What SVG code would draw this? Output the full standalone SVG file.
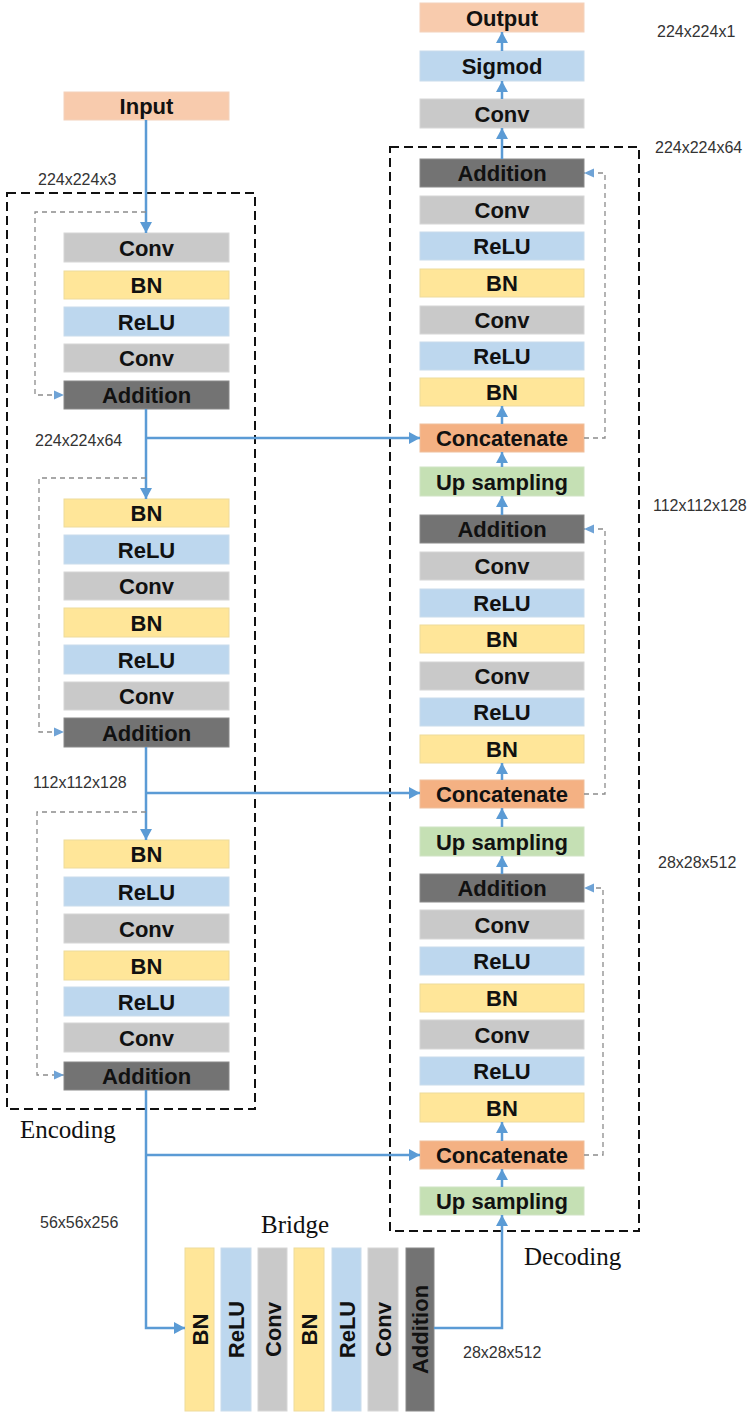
<svg xmlns="http://www.w3.org/2000/svg" width="750" height="1427" viewBox="0 0 750 1427">
<style>
.b{stroke-width:1}
.conv{fill:#C9C9C9;stroke:#D6D6D6}
.bn{fill:#FFE699;stroke:#EEDB9C}
.relu{fill:#BDD7EE;stroke:#C9DCEC}
.add{fill:#737373;stroke:#8A8A8A}
.io{fill:#F8CBAD;stroke:#F3D2BC}
.cat{fill:#F4B183;stroke:#EFBF9C}
.up{fill:#C5E0B4;stroke:#D0E3C4}
.t{font-family:"Liberation Sans",Arial,sans-serif;font-weight:bold;font-size:22px;fill:#111;text-anchor:middle}
.lbl{font-family:"Liberation Sans",Arial,sans-serif;font-size:16px;fill:#333}
.ser{font-family:"Liberation Serif","Times New Roman",serif;font-size:25px;fill:#111}
.frame{fill:none;stroke:#111;stroke-width:2;stroke-dasharray:9 5}
.skip{fill:none;stroke:#8C8C8C;stroke-width:1.3;stroke-dasharray:5 4}
.main{fill:none;stroke:#5B9BD5;stroke-width:2.5}
</style>
<defs>
<marker id="ah" markerUnits="userSpaceOnUse" markerWidth="12" markerHeight="12" refX="11" refY="6" orient="auto">
<path d="M0,0 L11,6 L0,12 z" fill="#5B9BD5"/>
</marker>
<marker id="sh" markerUnits="userSpaceOnUse" markerWidth="10" markerHeight="10" refX="10" refY="5" orient="auto">
<path d="M0,0.5 L10,5 L0,9.5 z" fill="#6FA3D6"/>
</marker>
</defs>

<g id="frames">
<rect class="frame" x="7" y="193" width="248" height="916"/>
<rect class="frame" x="390" y="147" width="249" height="1084"/>
</g>

<g id="labels">
<text class="lbl" x="38" y="185">224x224x3</text>
<text class="lbl" x="35" y="446">224x224x64</text>
<text class="lbl" x="33" y="788">112x112x128</text>
<text class="lbl" x="40" y="1228">56x56x256</text>
<text class="lbl" x="657" y="37">224x224x1</text>
<text class="lbl" x="655" y="153">224x224x64</text>
<text class="lbl" x="653" y="511">112x112x128</text>
<text class="lbl" x="658" y="868">28x28x512</text>
<text class="lbl" x="463" y="1358">28x28x512</text>
<text class="ser" x="20" y="1138">Encoding</text>
<text class="ser" x="261" y="1233">Bridge</text>
<text class="ser" x="524" y="1265">Decoding</text>
</g>

<g id="encoder">
<g id="e-input"><rect class="io" x="64" y="92" width="165" height="28"/><text class="t" x="146.5" y="114">Input</text></g>
<g id="e1-conv1"><rect class="conv" x="64" y="233" width="165" height="29"/><text class="t" x="146.5" y="255.5">Conv</text></g>
<g id="e1-bn"><rect class="bn" x="64" y="271" width="165" height="28"/><text class="t" x="146.5" y="293">BN</text></g>
<g id="e1-relu"><rect class="relu" x="64" y="307" width="165" height="29"/><text class="t" x="146.5" y="329.5">ReLU</text></g>
<g id="e1-conv2"><rect class="conv" x="64" y="344" width="165" height="28"/><text class="t" x="146.5" y="366">Conv</text></g>
<g id="e1-add"><rect class="add" x="64" y="381" width="165" height="28"/><text class="t" x="146.5" y="403">Addition</text></g>

<g id="e2-bn1"><rect class="bn" x="64" y="499" width="165" height="28"/><text class="t" x="146.5" y="521">BN</text></g>
<g id="e2-relu1"><rect class="relu" x="64" y="535" width="165" height="29"/><text class="t" x="146.5" y="557.5">ReLU</text></g>
<g id="e2-conv1"><rect class="conv" x="64" y="572" width="165" height="28"/><text class="t" x="146.5" y="594">Conv</text></g>
<g id="e2-bn2"><rect class="bn" x="64" y="608" width="165" height="29"/><text class="t" x="146.5" y="630.5">BN</text></g>
<g id="e2-relu2"><rect class="relu" x="64" y="645" width="165" height="29"/><text class="t" x="146.5" y="667.5">ReLU</text></g>
<g id="e2-conv2"><rect class="conv" x="64" y="682" width="165" height="28"/><text class="t" x="146.5" y="704">Conv</text></g>
<g id="e2-add"><rect class="add" x="64" y="718" width="165" height="29"/><text class="t" x="146.5" y="740.5">Addition</text></g>

<g id="e3-bn1"><rect class="bn" x="64" y="840" width="165" height="28"/><text class="t" x="146.5" y="862">BN</text></g>
<g id="e3-relu1"><rect class="relu" x="64" y="877" width="165" height="29"/><text class="t" x="146.5" y="899.5">ReLU</text></g>
<g id="e3-conv1"><rect class="conv" x="64" y="914" width="165" height="29"/><text class="t" x="146.5" y="936.5">Conv</text></g>
<g id="e3-bn2"><rect class="bn" x="64" y="951" width="165" height="29"/><text class="t" x="146.5" y="973.5">BN</text></g>
<g id="e3-relu2"><rect class="relu" x="64" y="987" width="165" height="29"/><text class="t" x="146.5" y="1009.5">ReLU</text></g>
<g id="e3-conv2"><rect class="conv" x="64" y="1023" width="165" height="29"/><text class="t" x="146.5" y="1045.5">Conv</text></g>
<g id="e3-add"><rect class="add" x="64" y="1062" width="165" height="28"/><text class="t" x="146.5" y="1084">Addition</text></g>
</g>

<g id="bridge">
<g id="br-bn1"><rect class="bn" x="185" y="1248" width="29" height="163"/><text class="t" x="199.5" y="1337.5" transform="rotate(-90 199.5 1329.5)">BN</text></g>
<g id="br-relu1"><rect class="relu" x="221" y="1248" width="30" height="163"/><text class="t" x="236" y="1337.5" transform="rotate(-90 236 1329.5)">ReLU</text></g>
<g id="br-conv1"><rect class="conv" x="258" y="1248" width="29" height="163"/><text class="t" x="272.5" y="1337.5" transform="rotate(-90 272.5 1329.5)">Conv</text></g>
<g id="br-bn2"><rect class="bn" x="294" y="1248" width="30" height="163"/><text class="t" x="309" y="1337.5" transform="rotate(-90 309 1329.5)">BN</text></g>
<g id="br-relu2"><rect class="relu" x="332" y="1248" width="29" height="163"/><text class="t" x="346.5" y="1337.5" transform="rotate(-90 346.5 1329.5)">ReLU</text></g>
<g id="br-conv2"><rect class="conv" x="368" y="1248" width="30" height="163"/><text class="t" x="383" y="1337.5" transform="rotate(-90 383 1329.5)">Conv</text></g>
<g id="br-add"><rect class="add" x="406" y="1248" width="28" height="163"/><text class="t" x="420" y="1337.5" transform="rotate(-90 420 1329.5)">Addition</text></g>
</g>

<g id="decoder">
<g id="d-output"><rect class="io" x="420" y="3" width="164" height="29"/><text class="t" x="502" y="25.5">Output</text></g>
<g id="d-sigmod"><rect class="relu" x="420" y="51" width="164" height="30"/><text class="t" x="502" y="74">Sigmod</text></g>
<g id="d-conv"><rect class="conv" x="420" y="99" width="164" height="29"/><text class="t" x="502" y="121.5">Conv</text></g>

<g id="d1-add"><rect class="add" x="420" y="159" width="164" height="28"/><text class="t" x="502" y="181">Addition</text></g>
<g id="d1-conv2"><rect class="conv" x="420" y="196" width="164" height="28"/><text class="t" x="502" y="218">Conv</text></g>
<g id="d1-relu2"><rect class="relu" x="420" y="232" width="164" height="28"/><text class="t" x="502" y="254">ReLU</text></g>
<g id="d1-bn2"><rect class="bn" x="420" y="269" width="164" height="28"/><text class="t" x="502" y="291">BN</text></g>
<g id="d1-conv1"><rect class="conv" x="420" y="306" width="164" height="28"/><text class="t" x="502" y="328">Conv</text></g>
<g id="d1-relu1"><rect class="relu" x="420" y="342" width="164" height="28"/><text class="t" x="502" y="364">ReLU</text></g>
<g id="d1-bn1"><rect class="bn" x="420" y="378" width="164" height="28"/><text class="t" x="502" y="400">BN</text></g>
<g id="d1-cat"><rect class="cat" x="420" y="424" width="164" height="28"/><text class="t" x="502" y="446">Concatenate</text></g>
<g id="d1-up"><rect class="up" x="420" y="467" width="164" height="29"/><text class="t" x="502" y="489.5">Up sampling</text></g>

<g id="d2-add"><rect class="add" x="420" y="515" width="164" height="28"/><text class="t" x="502" y="537">Addition</text></g>
<g id="d2-conv2"><rect class="conv" x="420" y="552" width="164" height="28"/><text class="t" x="502" y="574">Conv</text></g>
<g id="d2-relu2"><rect class="relu" x="420" y="589" width="164" height="28"/><text class="t" x="502" y="611">ReLU</text></g>
<g id="d2-bn2"><rect class="bn" x="420" y="625" width="164" height="28"/><text class="t" x="502" y="647">BN</text></g>
<g id="d2-conv1"><rect class="conv" x="420" y="662" width="164" height="28"/><text class="t" x="502" y="684">Conv</text></g>
<g id="d2-relu1"><rect class="relu" x="420" y="698" width="164" height="28"/><text class="t" x="502" y="720">ReLU</text></g>
<g id="d2-bn1"><rect class="bn" x="420" y="735" width="164" height="28"/><text class="t" x="502" y="757">BN</text></g>
<g id="d2-cat"><rect class="cat" x="420" y="780" width="164" height="28"/><text class="t" x="502" y="802">Concatenate</text></g>
<g id="d2-up"><rect class="up" x="420" y="827" width="164" height="29"/><text class="t" x="502" y="849.5">Up sampling</text></g>

<g id="d3-add"><rect class="add" x="420" y="874" width="164" height="28"/><text class="t" x="502" y="896">Addition</text></g>
<g id="d3-conv2"><rect class="conv" x="420" y="910" width="164" height="29"/><text class="t" x="502" y="932.5">Conv</text></g>
<g id="d3-relu2"><rect class="relu" x="420" y="947" width="164" height="28"/><text class="t" x="502" y="969">ReLU</text></g>
<g id="d3-bn2"><rect class="bn" x="420" y="984" width="164" height="28"/><text class="t" x="502" y="1006">BN</text></g>
<g id="d3-conv1"><rect class="conv" x="420" y="1020" width="164" height="29"/><text class="t" x="502" y="1042.5">Conv</text></g>
<g id="d3-relu1"><rect class="relu" x="420" y="1057" width="164" height="28"/><text class="t" x="502" y="1079">ReLU</text></g>
<g id="d3-bn1"><rect class="bn" x="420" y="1093" width="164" height="29"/><text class="t" x="502" y="1115.5">BN</text></g>
<g id="d3-cat"><rect class="cat" x="420" y="1141" width="164" height="28"/><text class="t" x="502" y="1163">Concatenate</text></g>
<g id="d3-up"><rect class="up" x="420" y="1187" width="164" height="28"/><text class="t" x="502" y="1209">Up sampling</text></g>
</g>

<g id="connectors">
<path class="main" d="M146,120 V233" marker-end="url(#ah)"/>
<path class="main" d="M146,409 V499" marker-end="url(#ah)"/>
<path class="main" d="M146,438 H420" marker-end="url(#ah)"/>
<path class="main" d="M146,747 V840" marker-end="url(#ah)"/>
<path class="main" d="M146,793 H420" marker-end="url(#ah)"/>
<path class="main" d="M146,1090 V1328 H185" marker-end="url(#ah)"/>
<path class="main" d="M146,1155 H420" marker-end="url(#ah)"/>
<path class="main" d="M434,1328 H502 V1215" marker-end="url(#ah)"/>
<path class="main" d="M502,1187 V1169" marker-end="url(#ah)"/>
<path class="main" d="M502,1141 V1122" marker-end="url(#ah)"/>
<path class="main" d="M502,874 V856" marker-end="url(#ah)"/>
<path class="main" d="M502,827 V808" marker-end="url(#ah)"/>
<path class="main" d="M502,780 V763" marker-end="url(#ah)"/>
<path class="main" d="M502,515 V496" marker-end="url(#ah)"/>
<path class="main" d="M502,467 V452" marker-end="url(#ah)"/>
<path class="main" d="M502,424 V406" marker-end="url(#ah)"/>
<path class="main" d="M502,159 V128" marker-end="url(#ah)"/>
<path class="main" d="M502,99 V81" marker-end="url(#ah)"/>
<path class="main" d="M502,51 V32" marker-end="url(#ah)"/>

<path class="skip" d="M146,212 H35 V395 H64" marker-end="url(#sh)"/>
<path class="skip" d="M146,478 H39 V732 H64" marker-end="url(#sh)"/>
<path class="skip" d="M146,812 H37 V1075 H64" marker-end="url(#sh)"/>
<path class="skip" d="M584,438 H605 V173 H584" marker-end="url(#sh)"/>
<path class="skip" d="M584,794 H605 V529 H584" marker-end="url(#sh)"/>
<path class="skip" d="M584,1155 H603 V888 H584" marker-end="url(#sh)"/>
</g>
</svg>
